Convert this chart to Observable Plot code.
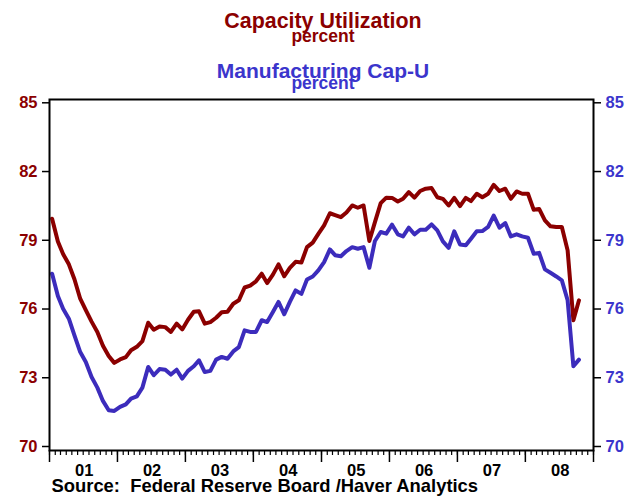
<!DOCTYPE html>
<html>
<head>
<meta charset="utf-8">
<script src="https://cdn.jsdelivr.net/npm/d3@7"></script>
<script src="https://cdn.jsdelivr.net/npm/@observablehq/plot@0.6"></script>
<style>
  html, body { margin: 0; padding: 0; background: #fff; }
  #chart svg { display: block; }
</style>
</head>
<body>
<div id="chart"></div>
<script>
// Monthly data, Jan 2001 – Oct 2008 (percent)
const startMonth = "2001-01";
const capacityUtilization = [
  79.94, 78.95, 78.40, 77.95, 77.30, 76.45, 75.95, 75.45, 75.00, 74.40, 73.95, 73.65,
  73.80, 73.90, 74.20, 74.35, 74.60, 75.40, 75.10, 75.24, 75.21, 75.00, 75.36, 75.11,
  75.53, 75.88, 75.90, 75.36, 75.43, 75.62, 75.86, 75.88, 76.23, 76.38, 76.94, 77.02,
  77.21, 77.54, 77.13, 77.50, 77.95, 77.43, 77.80, 78.06, 78.03, 78.70, 78.90, 79.28,
  79.65, 80.18, 80.10, 80.01, 80.21, 80.52, 80.42, 80.52, 78.97, 79.79, 80.62, 80.86,
  80.85, 80.69, 80.81, 81.10, 80.86, 81.15, 81.25, 81.28, 80.88, 80.81, 80.52, 80.85,
  80.49, 80.85, 80.71, 81.03, 80.88, 81.03, 81.42, 81.15, 81.25, 80.81, 81.13, 81.03,
  81.03, 80.33, 80.37, 79.87, 79.61, 79.58, 79.58, 78.56, 75.51, 76.38
];
const manufacturingCapU = [
  77.54, 76.57, 76.01, 75.58, 74.85, 74.12, 73.69, 73.03, 72.57, 71.99, 71.58, 71.55,
  71.73, 71.84, 72.09, 72.19, 72.57, 73.47, 73.11, 73.38, 73.35, 73.14, 73.35, 72.96,
  73.30, 73.50, 73.76, 73.25, 73.30, 73.79, 73.91, 73.83, 74.15, 74.34, 75.07, 75.00,
  75.00, 75.51, 75.43, 75.87, 76.31, 75.77, 76.31, 76.81, 76.66, 77.29, 77.42, 77.69,
  78.05, 78.60, 78.35, 78.30, 78.53, 78.70, 78.63, 78.70, 77.80, 78.97, 79.36, 79.29,
  79.68, 79.26, 79.17, 79.55, 79.26, 79.46, 79.46, 79.69, 79.43, 78.95, 78.67, 79.39,
  78.82, 78.78, 79.07, 79.39, 79.40, 79.58, 80.08, 79.55, 79.75, 79.17, 79.26, 79.17,
  79.11, 78.41, 78.45, 77.73, 77.58, 77.42, 77.25, 76.38, 73.50, 73.79
];
const yTicks = [70, 73, 76, 79, 82, 85];
const yearLabels = ["01", "02", "03", "04", "05", "06", "07", "08"];
const titles = ["Capacity Utilization", "percent", "Manufacturing Cap-U", "percent"];
const sourceText = "Source:  Federal Reserve Board /Haver Analytics";

const red = "#8b0000";
const blue = "#3c2cbc";
const textBlue = "#3b35cc";

const t0 = new Date(startMonth + "-01T00:00:00Z");
const midMonth = (i) => new Date(Date.UTC(t0.getUTCFullYear(), t0.getUTCMonth() + i, 15));
const cuData = capacityUtilization.map((v, i) => ({date: midMonth(i), value: v}));
const mfgData = manufacturingCapU.map((v, i) => ({date: midMonth(i), value: v}));
const years = yearLabels.map((s) => ({label: s, date: new Date(Date.UTC(2000 + (+s), 6, 6))}));
const monthTicks = d3.utcMonth.range(new Date(Date.UTC(2001, 0, 1)), new Date(Date.UTC(2009, 0, 2)));
const yearTicks = d3.utcYear.range(new Date(Date.UTC(2001, 0, 1)), new Date(Date.UTC(2009, 0, 2)));

const font = "'Liberation Sans', Arial, Helvetica, sans-serif";

const chart = Plot.plot({
  width: 638,
  height: 496,
  marginLeft: 49,
  marginRight: 45,
  marginTop: 99,
  marginBottom: 46,
  style: {fontFamily: font, background: "#fff", overflow: "visible"},
  x: {type: "utc", domain: [new Date(Date.UTC(2001, 0, 1)), new Date(Date.UTC(2009, 0, 1))]},
  y: {domain: [70, 85], range: [446, 102.3]},
  marks: [
    Plot.line(cuData, {x: "date", y: "value", stroke: red, strokeWidth: 4, strokeLinejoin: "round"}),
    Plot.line(mfgData, {x: "date", y: "value", stroke: blue, strokeWidth: 4, strokeLinejoin: "round"}),
    Plot.frame({stroke: "#000", strokeWidth: 2}),
    Plot.axisY({anchor: "left", ticks: yTicks, tickSize: 7, tickPadding: 5, stroke: "#000", strokeWidth: 1.5,
      fill: red, fontSize: 16.5, fontWeight: "bold", label: null}),
    Plot.axisY({anchor: "right", ticks: yTicks, tickSize: 7, tickPadding: 5, stroke: "#000", strokeWidth: 1.5,
      fill: textBlue, fontSize: 16.5, fontWeight: "bold", label: null}),
    Plot.axisX({ticks: monthTicks, tickSize: 5, stroke: "#000", strokeWidth: 1.2, text: null, label: null}),
    Plot.axisX({ticks: yearTicks, tickSize: 12, stroke: "#000", strokeWidth: 1.5, text: null, label: null}),
    Plot.text(years, {x: "date", text: "label", frameAnchor: "bottom", lineAnchor: "bottom", dy: 25,
      fontSize: 16.5, fontWeight: "bold", fill: "#000"}),
    Plot.text([titles[0]], {frameAnchor: "top", lineAnchor: "bottom", dx: 1.5, dy: -71.7,
      fontSize: 21.4, fontWeight: "bold", fill: red}),
    Plot.text([titles[1]], {frameAnchor: "top", lineAnchor: "bottom", dx: 1.5, dy: -58,
      fontSize: 17.5, fontWeight: "bold", fill: red}),
    Plot.text([titles[2]], {frameAnchor: "top", lineAnchor: "bottom", dx: 1.5, dy: -21.3,
      fontSize: 21, fontWeight: "bold", fill: textBlue}),
    Plot.text([titles[3]], {frameAnchor: "top", lineAnchor: "bottom", dx: 1.5, dy: -10.5,
      fontSize: 17.5, fontWeight: "bold", fill: textBlue}),
    Plot.text([sourceText], {frameAnchor: "bottom-left", textAnchor: "start", lineAnchor: "bottom", dx: 2, dy: 41,
      fontSize: 18.4, fontWeight: "bold", fill: "#000"})
  ]
});
document.getElementById("chart").appendChild(chart);
</script>
</body>
</html>
